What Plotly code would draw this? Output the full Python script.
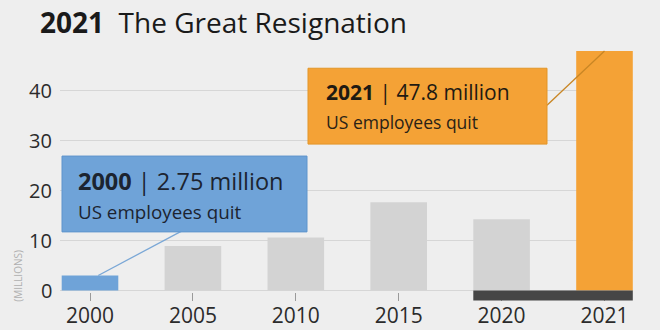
import plotly.graph_objects as go

# ---- data ----
years = ["2000", "2005", "2010", "2015", "2020", "2021"]
quits_millions = [3.0, 8.9, 10.6, 17.6, 14.2, 47.8]
bar_colors = ["#6fa3d8", "#d3d3d3", "#d3d3d3", "#d3d3d3", "#d3d3d3", "#f4a236"]
y_ticks = [0, 10, 20, 30, 40]
y_tick_labels = ["0", "10", "20", "30", "40"]
title_year = "2021"
title_text = "The Great Resignation"
callout_2000 = ("2000", "2.75 million", "US employees quit")
callout_2021 = ("2021", "47.8 million", "US employees quit")
y_axis_title = "(MILLIONS)"

FONT = "Open Sans"
BG = "#eeeeee"

# layout geometry (pixels in a 660x330 canvas)
W, H = 660, 330
ML, MR = 60, 27
Y0_PX, PX_PER_UNIT = 290.7, 5.02
YMIN, YMAX = -2.1, 50.2
MT = Y0_PX - YMAX * PX_PER_UNIT
MB = H - (Y0_PX - YMIN * PX_PER_UNIT)
CAT0_PX, CAT_STEP = 90.0, 102.9
XMIN = -(CAT0_PX - ML) / CAT_STEP
XMAX = (W - MR - CAT0_PX) / CAT_STEP


def px_x(px):
    return (px - CAT0_PX) / CAT_STEP


def px_y(py):
    return (Y0_PX - py) / PX_PER_UNIT


fig = go.Figure()
fig.add_trace(go.Bar(
    x=list(range(len(years))),
    y=quits_millions,
    marker=dict(color=bar_colors, line=dict(width=0)),
    width=0.55,
    hoverinfo="skip",
))

shapes = []
annotations = []

# dark base under 2020-2021
shapes.append(dict(type="rect", xref="x", yref="y",
                   x0=4 - 0.275, x1=5 + 0.275, y0=-2.0, y1=0,
                   fillcolor="#464646", line=dict(width=0), layer="above"))

# blue callout box + connector
shapes.append(dict(type="line", xref="x", yref="y",
                   x0=px_x(182), y0=px_y(231), x1=0.08, y1=quits_millions[0],
                   line=dict(color="#7aa7d6", width=1.3), layer="above"))
shapes.append(dict(type="rect", xref="x", yref="y",
                   x0=px_x(62), x1=px_x(307), y0=px_y(232), y1=px_y(156),
                   fillcolor="#6fa3d8", line=dict(color="#5f94cc", width=1),
                   layer="above"))
# orange callout box + connector
shapes.append(dict(type="line", xref="x", yref="y",
                   x0=px_x(547), y0=px_y(105), x1=5.0, y1=quits_millions[5],
                   line=dict(color="#c98624", width=1.3), layer="above"))
shapes.append(dict(type="rect", xref="x", yref="y",
                   x0=px_x(308), x1=px_x(547), y0=px_y(144), y1=px_y(68),
                   fillcolor="#f4a236", line=dict(color="#e39526", width=1),
                   layer="above"))

annotations.append(dict(xref="x", yref="y", x=px_x(76), y=px_y(180.5),
                        xanchor="left", yanchor="middle", showarrow=False,
                        text=f"<b>{callout_2000[0]}</b> | {callout_2000[1]}",
                        font=dict(family=FONT, size=23.5, color="#1c2430")))
annotations.append(dict(xref="x", yref="y", x=px_x(76), y=px_y(212),
                        xanchor="left", yanchor="middle", showarrow=False,
                        text=callout_2000[2],
                        font=dict(family=FONT, size=18.8, color="#1c2430")))
annotations.append(dict(xref="x", yref="y", x=px_x(324), y=px_y(92),
                        xanchor="left", yanchor="middle", showarrow=False,
                        text=f"<b>{callout_2021[0]}</b> | {callout_2021[1]}",
                        font=dict(family=FONT, size=21, color="#1f1a12")))
annotations.append(dict(xref="x", yref="y", x=px_x(324), y=px_y(122),
                        xanchor="left", yanchor="middle", showarrow=False,
                        text=callout_2021[2],
                        font=dict(family=FONT, size=17.5, color="#2a2216")))

# y tick labels (placed right next to the gridlines)
for v, lab in zip(y_ticks, y_tick_labels):
    annotations.append(dict(xref="paper", yref="y", x=0, y=v,
                            xanchor="right", yanchor="middle", xshift=-6,
                            showarrow=False, text=lab,
                            font=dict(family=FONT, size=20, color="#2b2b2b")))

# y axis title (rotated)
annotations.append(dict(xref="paper", yref="y", x=-(ML - 18) / (W - ML - MR),
                        y=px_y(276), xanchor="center", yanchor="middle",
                        showarrow=False, textangle=-90, text=y_axis_title,
                        font=dict(family=FONT, size=10, color="#b0b0b0")))

fig.update_layout(
    width=W, height=H,
    margin=dict(l=ML, r=MR, t=MT, b=MB, pad=0, autoexpand=False),
    paper_bgcolor=BG, plot_bgcolor=BG,
    showlegend=False,
    title=dict(
        text=f"<b>{title_year}</b>  <span style='font-weight:400'>{title_text}</span>",
        xref="container", yref="container", x=40 / W, xanchor="left",
        y=1 - 23 / H, yanchor="middle",
        font=dict(family=FONT, size=28, color="#1a1a1a"),
    ),
    bargap=0.45,
    xaxis=dict(
        range=[XMIN, XMAX],
        tickmode="array",
        tickvals=list(range(len(years))),
        ticktext=years,
        ticks="inside", ticklen=8, tickcolor="#9a9a9a", tickwidth=1,
        showgrid=False, zeroline=False, showline=False,
        tickfont=dict(family=FONT, size=21, color="#2b2b2b"),
        layer="below traces",
        automargin=False,
        fixedrange=True,
    ),
    yaxis=dict(
        range=[YMIN, YMAX],
        tickmode="array", tickvals=y_ticks,
        showticklabels=False,
        showgrid=True, gridcolor="#d6d6d6", gridwidth=1,
        zeroline=False, showline=False,
        ticks="",
        layer="below traces",
        automargin=False,
        fixedrange=True,
    ),
    shapes=shapes,
    annotations=annotations,
)

fig.write_html("out.html")
